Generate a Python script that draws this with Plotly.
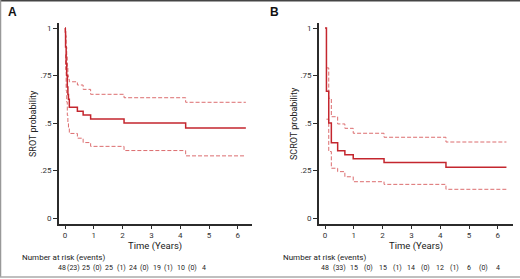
import plotly.graph_objects as go

W, H = 520, 279

# ---------------- data ----------------
# Panel A (SROT)
a_time = [0, 0.01, 0.02, 0.04, 0.06, 0.08, 0.10, 0.12, 0.15, 0.43, 0.63, 0.89, 2.05, 4.19, 6.28]
a_surv = [1, 0.979, 0.90, 0.81, 0.75, 0.69, 0.65, 0.625, 0.583, 0.5625, 0.542, 0.521, 0.50, 0.474, 0.474]
a_ci_time = [0.01, 0.02, 0.04, 0.06, 0.08, 0.10, 0.12, 0.15, 0.43, 0.63, 0.89, 2.05, 4.19, 6.28]
a_upper = [0.997, 0.96, 0.90, 0.85, 0.79, 0.75, 0.73, 0.717, 0.70, 0.677, 0.651, 0.633, 0.609, 0.609]
a_lower = [0.86, 0.78, 0.67, 0.61, 0.54, 0.50, 0.475, 0.445, 0.42, 0.397, 0.377, 0.355, 0.327, 0.327]
a_risk = ["48", "(23)", "25", "(0)", "25", "(1)", "24", "(0)", "19", "(1)", "10", "(0)", "4"]

# Panel B (SCROT)
b_time = [0, 0.05, 0.13, 0.22, 0.44, 0.69, 0.98, 2.05, 4.2, 6.3]
b_surv = [1, 0.667, 0.5, 0.396, 0.354, 0.333, 0.3125, 0.292, 0.267, 0.267]
b_ci_time = [0.05, 0.13, 0.22, 0.44, 0.69, 0.98, 2.05, 4.2, 6.3]
b_upper = [0.79, 0.63, 0.533, 0.495, 0.472, 0.446, 0.425, 0.40, 0.40]
b_lower = [0.52, 0.35, 0.262, 0.244, 0.217, 0.191, 0.177, 0.151, 0.151]
b_risk = ["48", "(33)", "15", "(0)", "15", "(1)", "14", "(0)", "12", "(1)", "6", "(0)", "4"]

x_ticks = [0, 1, 2, 3, 4, 5, 6]
y_ticks = [0, 0.25, 0.5, 0.75, 1]
y_tick_text = ["0", ".25", ".5", ".75", "1"]

FONT = "Liberation Sans Narrow, Roboto, Arial Narrow, sans-serif"
SOLID = "#c4262e"
DASH = "#dc6d6f"
AXC = "#2b2b2b"

fig = go.Figure()

def add_panel(xa, ya, t, s, ct, up, lo):
    fig.add_trace(go.Scatter(x=ct, y=up, mode="lines", line=dict(color=DASH, width=1, dash="4px,2px", shape="hv"),
                             xaxis=xa, yaxis=ya, showlegend=False, hoverinfo="skip"))
    fig.add_trace(go.Scatter(x=ct, y=lo, mode="lines", line=dict(color=DASH, width=1, dash="4px,2px", shape="hv"),
                             xaxis=xa, yaxis=ya, showlegend=False, hoverinfo="skip"))
    fig.add_trace(go.Scatter(x=t, y=s, mode="lines", line=dict(color=SOLID, width=1.5, shape="hv"),
                             xaxis=xa, yaxis=ya, showlegend=False, hoverinfo="skip"))

add_panel("x", "y", a_time, a_surv, a_ci_time, a_upper, a_lower)
add_panel("x2", "y2", b_time, b_surv, b_ci_time, b_upper, b_lower)

def px_x(p):
    return p / W

def px_y(p):
    return 1 - p / H

ydom = [px_y(224), px_y(23)]
yr = [-6 / 190, 1 + 5 / 190]

xcommon = dict(tickmode="array", tickvals=x_ticks, ticktext=[str(v) for v in x_ticks],
               showgrid=False, zeroline=False, showline=True, linecolor=AXC, linewidth=1.6,
               ticks="outside", ticklen=3, tickcolor=AXC, tickwidth=1,
               tickfont=dict(family=FONT, size=8, color="#333"))
ycommon = dict(tickmode="array", tickvals=y_ticks, ticktext=y_tick_text,
               showgrid=False, zeroline=False, showline=True, linecolor=AXC, linewidth=1.6,
               ticks="outside", ticklen=4, tickcolor=AXC, tickwidth=1,
               tickfont=dict(family=FONT, size=8, color="#333"), range=yr, domain=ydom)

fig.update_layout(
    width=W, height=H, margin=dict(l=0, r=0, t=0, b=0),
    paper_bgcolor="white", plot_bgcolor="white",
    xaxis=dict(domain=[px_x(59), px_x(252)], range=[-6 / 28.8, (252 - 65) / 28.8], anchor="y", **xcommon),
    yaxis=dict(anchor="x", **ycommon),
    xaxis2=dict(domain=[px_x(319), px_x(513)], range=[-6 / 28.8, (513 - 325) / 28.8], anchor="y2", **xcommon),
    yaxis2=dict(anchor="x2", **ycommon),
)

ann = []
def text(x, y, s, size=8.5, bold=False, angle=0, xanchor="center", color="#222"):
    ann.append(dict(x=px_x(x), y=px_y(y), xref="paper", yref="paper", text=("<b>%s</b>" % s) if bold else s,
                    showarrow=False, xanchor=xanchor, yanchor="middle", textangle=angle,
                    font=dict(family=FONT if not bold else "Liberation Sans, Arial, sans-serif", size=size, color=color)))

# panel letters
text(12, 12, "A", size=12, bold=True, color="#111")
text(274, 12, "B", size=12, bold=True, color="#111")
# axis titles
text(33, 124, "SROT probability", size=9, angle=-90)
text(294, 124, "SCROT probability", size=9, angle=-90)
text(155, 246, "Time (Years)", size=9.5)
text(416, 246, "Time (Years)", size=9.5)
# number at risk
text(20, 257, "Number at risk (events)", size=8, xanchor="left")
text(281, 257, "Number at risk (events)", size=8, xanchor="left")
for k, s in enumerate(a_risk):
    text(62 + k * 11.85, 268, s, size=7)
for k, s in enumerate(b_risk):
    text(325 + k * 14.4, 268, s, size=7)

fig.update_layout(annotations=ann)

# frame lines
fig.add_shape(type="line", xref="paper", yref="paper", x0=0, x1=1, y0=px_y(0.5), y1=px_y(0.5),
              line=dict(color="#444", width=2))
fig.add_shape(type="line", xref="paper", yref="paper", x0=px_x(0.5), x1=px_x(0.5), y0=px_y(0), y1=px_y(277),
              line=dict(color="#999", width=1.5))
fig.add_shape(type="line", xref="paper", yref="paper", x0=0, x1=1, y0=px_y(277), y1=px_y(277),
              line=dict(color="#aaa", width=1.5))

fig.write_html("out.html", config={"displayModeBar": False})

# remove default page margins so the 520x279 figure fills the window exactly
with open("out.html", "r", encoding="utf-8") as f:
    html = f.read()
html = html.replace("<head>", "<head><style>html,body{margin:0;padding:0;overflow:hidden;}</style>", 1)
with open("out.html", "w", encoding="utf-8") as f:
    f.write(html)
